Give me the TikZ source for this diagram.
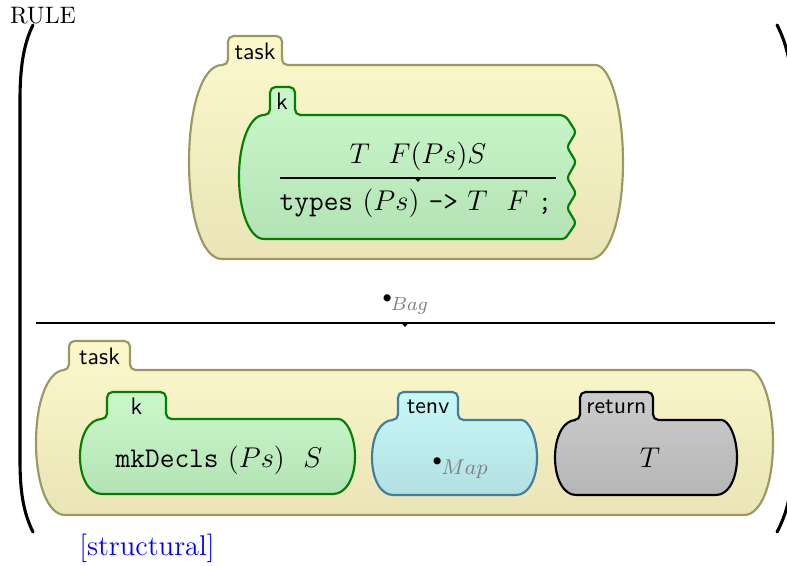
\documentclass[tikz,border=0pt]{standalone}
\usetikzlibrary{positioning,calc}
\definecolor{taskTop}{HTML}{FBF9CC}
\definecolor{taskBot}{HTML}{EAE4B6}
\definecolor{taskLine}{HTML}{9C9862}
\definecolor{kTop}{HTML}{CBF8CB}
\definecolor{kBot}{HTML}{B3E3B5}
\definecolor{kLine}{HTML}{008000}
\definecolor{tenvTop}{HTML}{C8F8F8}
\definecolor{tenvBot}{HTML}{B2E0E2}
\definecolor{tenvLine}{HTML}{3E7E9C}
\definecolor{retTop}{HTML}{CCCCCC}
\definecolor{retBot}{HTML}{B6B6B6}
\tikzset{
  taskcell/.style={draw=taskLine, line width=0.9pt, top color=taskTop, bottom color=taskBot},
  kcell/.style={draw=kLine, line width=0.9pt, top color=kTop, bottom color=kBot},
  tenvcell/.style={draw=tenvLine, line width=0.9pt, top color=tenvTop, bottom color=tenvBot},
  retcell/.style={draw=black, line width=0.9pt, top color=retTop, bottom color=retBot},
  tablbl/.style={font=\sffamily, inner sep=1pt},
  celltext/.style={font=\large, inner sep=1pt},
  varlbl/.style={anchor=base west, inner sep=0pt},
  ruleline/.style={line width=0.5pt},
  bracket/.style={line width=1.3pt, line cap=round}
}
% cell body with a tab: style, x1, x2, ytop, ybot, tab x1, tab x2, tab top, side
\newcommand{\cellshape}[9]{%
  \path[#1] (#2,{(#4+#5)/2}) .. controls (#2,{#4+0.22*(#5-#4)}) and ({#2+0.4*#9},#4) .. ({#2+#9},#4)
    [rounded corners=2.3pt] -- (#6,#4) -- (#6,#8) -- (#7,#8) -- (#7,#4) -- ({#3-#9},#4)
    [sharp corners] .. controls ({#3-0.4*#9},#4) and (#3,{#4+0.22*(#5-#4)}) .. (#3,{(#4+#5)/2})
    .. controls (#3,{#5-0.22*(#5-#4)}) and ({#3-0.4*#9},#5) .. ({#3-#9},#5)
    -- ({#2+#9},#5) .. controls ({#2+0.4*#9},#5) and (#2,{#5-0.22*(#5-#4)}) .. (#2,{(#4+#5)/2}) -- cycle;}
\begin{document}
\begin{tikzpicture}[x=0.42pt, y=-0.42pt]
  \useasboundingbox (0,0) rectangle (787,565);
  % brackets
  \draw[bracket] (33,25) .. controls (23,45) and (20,70) .. (20,100) -- (20,460) .. controls (20,490) and (23,512) .. (33,532);
  \draw[bracket] (777,25) .. controls (786,42) and (792,65) .. (792,95) -- (792,465) .. controls (792,495) and (786,515) .. (777,532);
  \node (rulelbl) at (43,16) {RULE};

  % upper side
  \cellshape{taskcell}{189}{623}{65}{259}{228}{282}{36}{33}
  \node[tablbl] (taskTopLbl) at (255,51) {task};
  \path[kcell] (239,177) .. controls (239,142) and (250,115) .. (264,115)
    [rounded corners=2.3pt] -- (270,115) -- (270,87) -- (295,87) -- (295,115) -- (565,115)
    [rounded corners=1.3pt] -- (576,132) -- (567,147) -- (576,162) -- (567,178) -- (576,193)
    -- (567,208) -- (576,223) -- (565,239) [sharp corners] -- (264,239)
    .. controls (250,239) and (239,212) .. (239,177) -- cycle;
  \node[tablbl] (kTopLbl) at (282,101) {k};
  \node[celltext] (kTopUp) at (418,156) {$T\ \ F(Ps)S$};
  \coordinate (kRuleL) at (280,178);
  \coordinate (kRuleR) at (556,178);
  \coordinate (kMark) at (418,178);
  \draw[ruleline] (kRuleL) -- (kRuleR);
  \fill (kMark) -- ++(-3.5,0) -- ++(3.5,4) -- ++(3.5,-4) -- cycle;
  \node[celltext] (kTopDown) at (416,203) {\texttt{types}\ $(Ps)$\ \texttt{->}\ $T\ \ F$\ \texttt{;}};

  % main rule
  \node[varlbl] (bagLbl) at (382,310) {\raisebox{3.2pt}{\scriptsize$\bullet$}\kern-0.6pt{\footnotesize\color{gray}$Bag$}};
  \coordinate (mainRuleL) at (36,323);
  \coordinate (mainRuleR) at (775,323);
  \coordinate (mainMark) at (405,323);
  \draw[ruleline] (mainRuleL) -- (mainRuleR);
  \fill (mainMark) -- ++(-3.5,0) -- ++(3.5,4) -- ++(3.5,-4) -- cycle;

  % lower side
  \cellshape{taskcell}{36}{773}{370}{515}{69}{130}{341}{29}
  \node[tablbl] (taskBotLbl) at (99.5,356) {task};
  \cellshape{kcell}{80}{355}{419}{494}{107}{166}{392}{22}
  \node[tablbl] (kBotLbl) at (136.5,406) {k};
  \node[celltext] (kBotText) at (219,460) {\texttt{mkDecls}\ $(Ps)$\ \ $S$};
  \cellshape{tenvcell}{372}{537}{420}{495}{398}{458}{392}{21}
  \node[tablbl] (tenvLbl) at (428,407) {tenv};
  \node[varlbl] (tenvText) at (432,474) {\raisebox{3.6pt}{\scriptsize$\bullet$}\kern-0.4pt{\small\color{gray}$Map$}};
  \cellshape{retcell}{555}{737}{420}{495}{580}{653}{392}{21}
  \node[tablbl] (retLbl) at (616.5,407) {return};
  \node[celltext] (retText) at (650,458) {$T$};

  \node[font=\large, text=blue] (attrLbl) at (147,548) {[structural]};
\end{tikzpicture}
\end{document}
